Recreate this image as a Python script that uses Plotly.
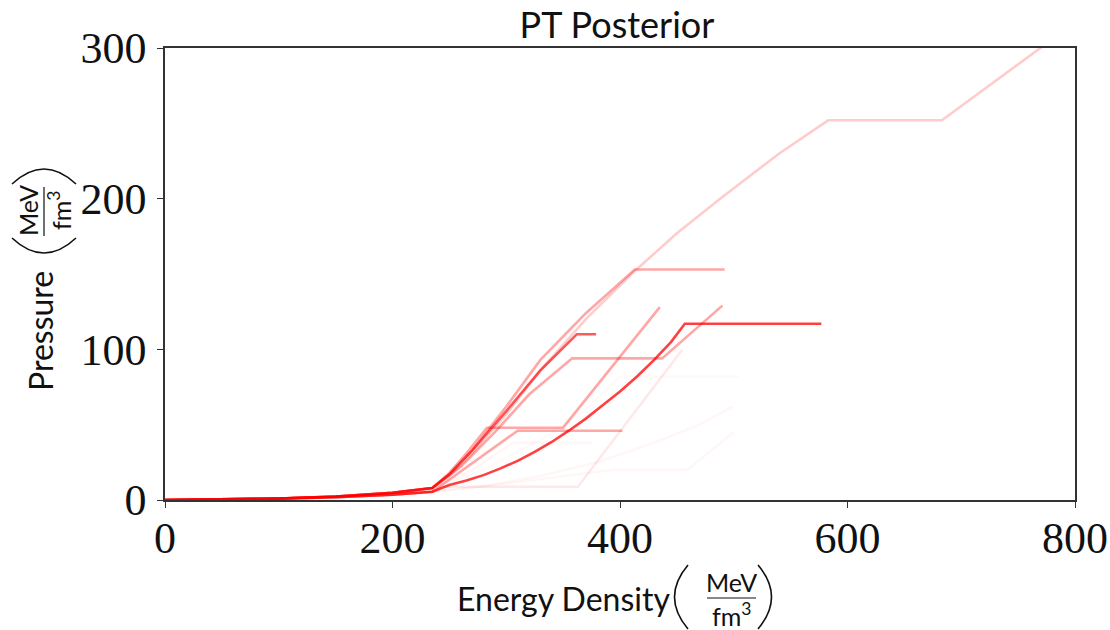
import plotly.graph_objects as go

# ---------------- data (energy density, pressure in MeV/fm^3) ----------------
crust_e = [0, 50, 100, 150, 200, 235]
crust_p = [0, 0.3, 1.0, 2.3, 4.8, 8.0]
crust_soft_p = [0, 0.3, 0.9, 1.9, 3.6, 5.5]

a_e = [250, 270, 300, 330, 370, 410, 450, 488, 540, 583, 683, 775]
a_p = [16, 31, 57, 86, 120, 150, 177, 200, 230, 252, 252, 303]

b_e = [250, 270, 300, 330, 370, 413, 492]
b_p = [17, 33, 62, 93, 124, 153, 153]

c_e = [250, 270, 300, 330, 362, 379]
c_p = [17, 33, 59, 86, 110, 110]

d_e = [260, 290, 320, 358, 437, 490]
d_p = [22, 45, 70, 94, 94, 129]

e_e = [250, 265, 283, 350, 435]
e_p = [18, 31, 48, 48, 128]

f_e = [260, 285, 310, 402]
f_p = [19, 32, 46, 46]

g_e = [250, 265, 280, 295, 310, 325, 340, 355, 370, 385, 400, 415, 430, 445, 457, 577]
g_p = [10, 13, 16.5, 21, 26, 32, 38.5, 46, 54, 63, 72, 82, 93, 105, 117, 117]

h_e = [244, 363, 455]
h_p = [8.8, 8.8, 100]

i1_e = [280, 330, 380, 430, 470, 499]
i1_p = [9, 16, 25, 38, 50, 62]

i2_e = [270, 306, 376]
i2_p = [20, 38, 38]

i3_e = [280, 330, 370, 400, 505]
i3_p = [20, 40, 60, 82, 82]

i4_e = [300, 394, 459, 500]
i4_p = [11, 20, 20, 45]

# (high-density branch e, p, crust pressure, opacity)
curves = [
    (a_e, a_p, crust_p, 0.20),
    (b_e, b_p, crust_p, 0.35),
    (c_e, c_p, crust_p, 0.65),
    (d_e, d_p, crust_p, 0.35),
    (e_e, e_p, crust_p, 0.35),
    (f_e, f_p, crust_soft_p, 0.35),
    (g_e, g_p, crust_soft_p, 0.75),
    (h_e, h_p, crust_soft_p, 0.09),
    (i1_e, i1_p, crust_soft_p, 0.035),
    (i2_e, i2_p, crust_p, 0.035),
    (i3_e, i3_p, crust_p, 0.025),
    (i4_e, i4_p, crust_soft_p, 0.03),
]

x_ticks = [0, 200, 400, 600, 800]
y_ticks = [0, 100, 200, 300]

# ---------------- figure ----------------
W, H = 1110, 630
L, R, T, B = 165, 35, 48, 130
PW, PH = W - L - R, H - T - B

fig = go.Figure()
for ex, px, cp, alpha in curves:
    fig.add_trace(go.Scatter(
        x=crust_e + ex, y=cp + px, mode="lines",
        line=dict(color=f"rgba(255,0,0,{alpha})", width=2.6),
        hoverinfo="skip", showlegend=False,
    ))

axis_common = dict(
    showgrid=False, zeroline=False, showline=True, mirror=True,
    linecolor="#333333", linewidth=1.5, ticks="outside", ticklen=6,
    tickwidth=1.3, tickcolor="#333333", automargin=False,
    tickfont=dict(family="Liberation Serif", size=44, color="#111111"),
)
fig.update_xaxes(range=[0, 800], tickvals=x_ticks, ticktext=[str(v) for v in x_ticks],
                 ticklabelstandoff=-8, **axis_common)
fig.update_yaxes(range=[0, 300], tickvals=y_ticks, ticktext=[str(v) for v in y_ticks],
                 ticklabelstandoff=2, **axis_common)


def px2paper(xp, yp):
    return (xp - L) / PW, (H - B - yp) / PH


SANS = "Lato"
annots = []
shapes = []


def add_text(xp, yp, text, size, angle=0):
    x, y = px2paper(xp, yp)
    annots.append(dict(x=x, y=y, xref="paper", yref="paper", text=text, showarrow=False,
                       xanchor="center", yanchor="middle", textangle=angle,
                       font=dict(family=SANS, size=size, color="#111111")))


def add_line(p0, p1):
    x0, y0 = px2paper(*p0)
    x1, y1 = px2paper(*p1)
    shapes.append(dict(type="line", xref="paper", yref="paper", x0=x0, x1=x1, y0=y0, y1=y1,
                       line=dict(color="#111111", width=1.2)))


def add_arc(p0, pc, p1):
    pts = [px2paper(*p) for p in (p0, pc, p1)]
    path = "M {:.5f},{:.5f} Q {:.5f},{:.5f} {:.5f},{:.5f}".format(
        pts[0][0], pts[0][1], pts[1][0], pts[1][1], pts[2][0], pts[2][1])
    shapes.append(dict(type="path", xref="paper", yref="paper", path=path,
                       line=dict(color="#111111", width=1.6)))


# x-axis label
add_text(563, 598, "Energy Density", 32)
add_text(731, 582, "MeV", 25)
add_text(731, 614, "fm<sup>3</sup>", 25)
add_line((707, 598), (756, 598))
add_arc((688, 565), (661, 597), (688, 629))
add_arc((758, 565), (785, 597), (758, 629))

# y-axis label
add_text(40, 331, "Pressure", 32, -90)
add_text(28, 211, "MeV", 25, -90)
add_text(60, 211, "fm<sup>3</sup>", 25, -90)
add_line((44, 187), (44, 236))
add_arc((12, 238), (44, 268), (76, 238))
add_arc((12, 184), (44, 154), (76, 184))

fig.update_layout(
    width=W, height=H,
    margin=dict(l=L, r=R, t=T, b=B),
    paper_bgcolor="white", plot_bgcolor="white",
    title=dict(text="PT Posterior", x=617 / W, xanchor="center", xref="container",
               y=1 - 25 / H, yanchor="middle", yref="container",
               font=dict(family=SANS, size=36, color="#111111")),
    annotations=annots, shapes=shapes,
)

fig.write_html("out.html")
